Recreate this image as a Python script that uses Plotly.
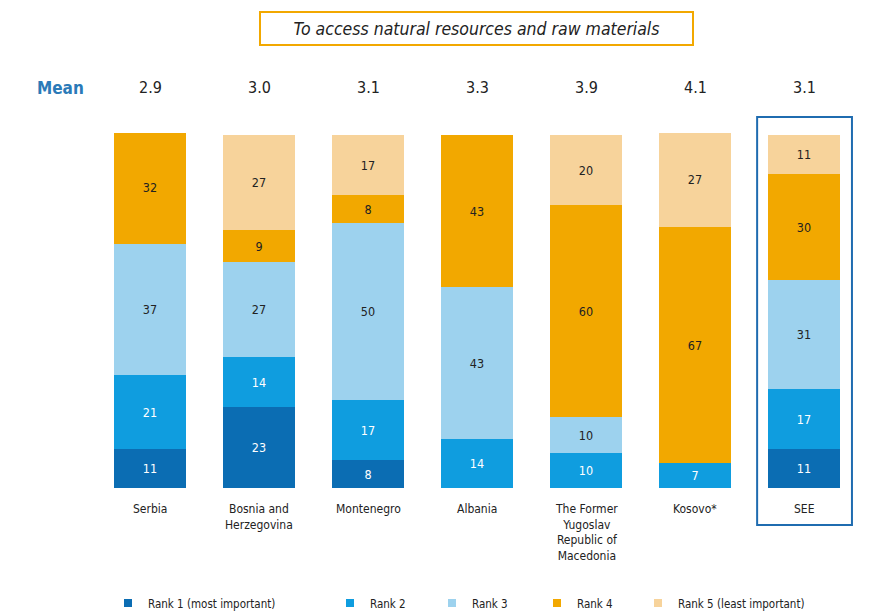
import plotly.graph_objects as go

categories = ["Serbia", "Bosnia and<br>Herzegovina", "Montenegro", "Albania",
              "The Former<br>Yugoslav<br>Republic of<br>Macedonia", "Kosovo*", "SEE"]
means = ["2.9", "3.0", "3.1", "3.3", "3.9", "4.1", "3.1"]
rank1 = [11, 23, 8, None, None, None, 11]
rank2 = [21, 14, 17, 14, 10, 7, 17]
rank3 = [37, 27, 50, 43, 10, None, 31]
rank4 = [32, 9, 8, 43, 60, 67, 30]
rank5 = [None, 27, 17, None, 20, 27, 11]
series_names = ["Rank 1 (most important)", "Rank 2", "Rank 3", "Rank 4", "Rank 5 (least important)"]
colors = ["#0b6db3", "#0f9ddf", "#9dd2ee", "#f2a800", "#f7d39b"]
text_colors = ["white", "white", "#222222", "#222222", "#222222"]
title_text = "To access natural resources and raw materials"

FONT = "DejaVu Sans Condensed, Liberation Sans Narrow, Open Sans, sans-serif"
W, H = 881, 615
PT, PB = 133, 488          # plot area top / bottom in pixels
PH = PB - PT
xs = list(range(len(categories)))
fig = go.Figure()
all_series = [rank1, rank2, rank3, rank4, rank5]
legend_ids = ["legend", "legend2", "legend3", "legend4", "legend5"]
for vals, name, col, tc, lg in zip(all_series, series_names, colors, text_colors, legend_ids):
    fig.add_trace(go.Bar(
        x=xs, y=vals, name=name, marker=dict(color=col, line=dict(width=0)),
        width=0.66, texttemplate="%{y}", textposition="inside",
        insidetextanchor="middle", textangle=0,
        textfont=dict(color=tc, size=12.5, family=FONT), showlegend=False,
        hoverinfo="skip"))
    fig.add_trace(go.Scatter(
        x=[None], y=[None], mode="markers", name=name,
        marker=dict(symbol="square", size=8, color=col), legend=lg))

fig.update_layout(
    barmode="stack", bargap=0,
    width=W, height=H,
    margin=dict(l=0, r=0, t=PT, b=H - PB, autoexpand=False),
    plot_bgcolor="white", paper_bgcolor="white",
    font=dict(family=FONT, size=12, color="#222222"),
    uniformtext=dict(minsize=8, mode="show"),
    xaxis=dict(range=[-150/109, (W-150)/109], showticklabels=False,
               showgrid=False, zeroline=False, showline=False),
    yaxis=dict(range=[0, 100.5], visible=False),
)

# legends (one per series so each can sit where the reference puts it)
text_start = [153, 375, 477, 582, 683]
for lg, tx in zip(legend_ids, text_start):
    fig.update_layout({lg: dict(x=(tx - 45)/W, y=1 - 603/H, xref="container", yref="container",
                                xanchor="left", yanchor="middle",
                                orientation="h", bgcolor="rgba(0,0,0,0)",
                                font=dict(size=11.5, family=FONT, color="#222222"),
                                itemwidth=30, tracegroupgap=0)})

# category labels
for i, c in enumerate(categories):
    fig.add_annotation(x=i, y=0, xref="x", yref="y", text=c, showarrow=False,
                       yanchor="top", yshift=-12, font=dict(size=12, color="#222222"),
                       align="center")

# mean row
ym = (PB - 88)/PH
fig.add_annotation(x=60/W, y=ym, xref="paper", yref="paper", text="<b>Mean</b>",
                   showarrow=False, font=dict(size=17, color="#2a7ab8"),
                   xanchor="center", yanchor="middle")
for i, m in enumerate(means):
    fig.add_annotation(x=i, y=ym, xref="x", yref="paper", text=m, showarrow=False,
                       font=dict(size=16, color="#222222"), xanchor="center", yanchor="middle")

# title box
fig.add_annotation(x=476/W, y=(PB - 29)/PH, xref="paper", yref="paper",
                   text="<i>" + title_text + "</i>", showarrow=False,
                   xanchor="center", yanchor="middle",
                   font=dict(size=17.5, color="#222222"),
                   bordercolor="#f2a800", borderwidth=2, bgcolor="white",
                   width=427, height=27, borderpad=2)

# SEE highlight box
see_i = categories.index("SEE")
fig.add_shape(type="rect", xref="x", yref="paper",
              x0=see_i - 0.43, x1=see_i + 0.44,
              y0=(PB - 525)/PH, y1=(PB - 117)/PH,
              line=dict(color="#1f6cb0", width=2), fillcolor="rgba(0,0,0,0)")

fig.write_html("out.html", config={"displayModeBar": False},
               post_script="document.body.style.margin='0px';document.body.style.overflow='hidden';")
